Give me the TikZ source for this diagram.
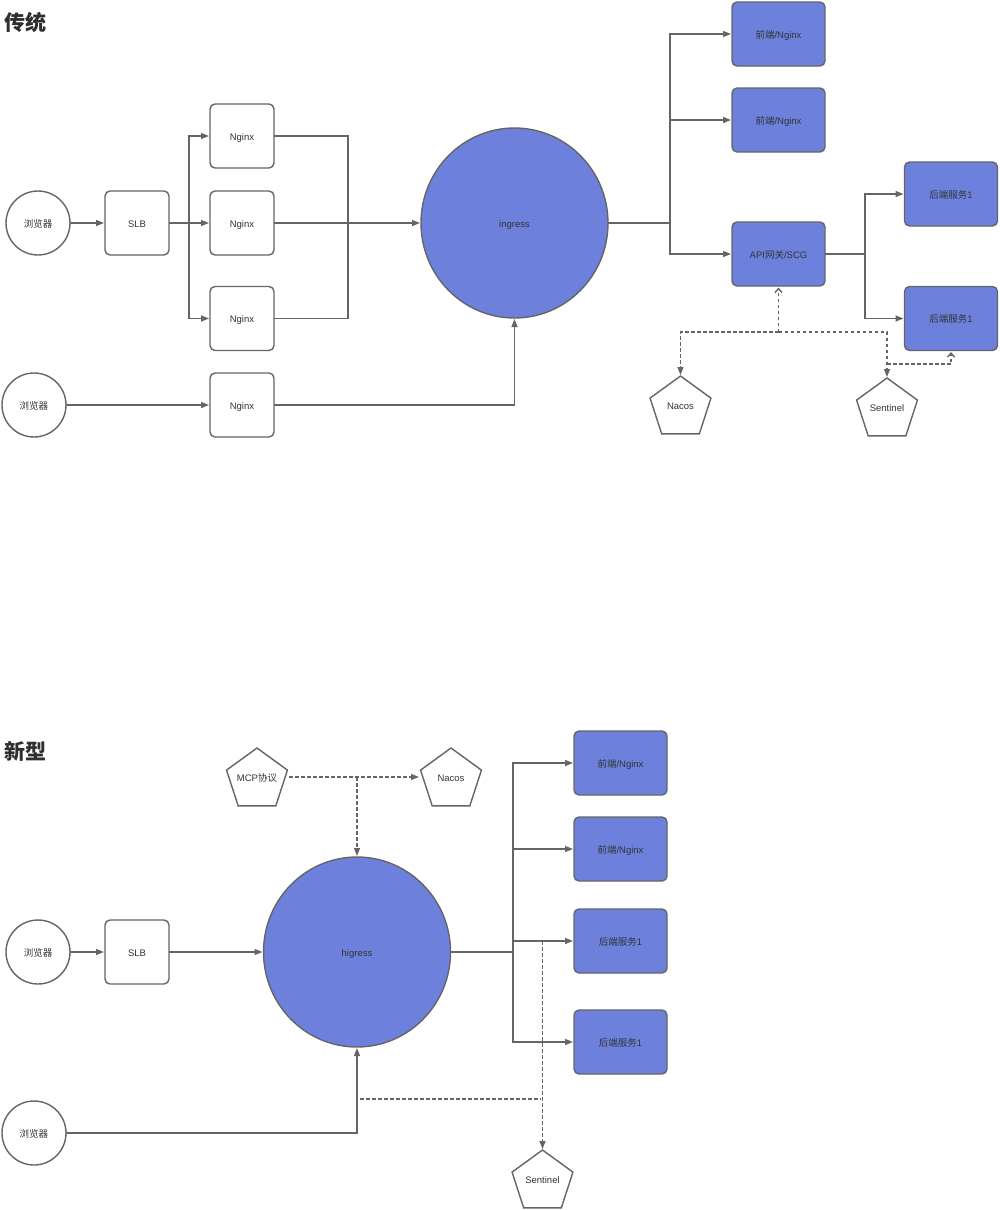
\documentclass[tikz,border=0pt]{standalone}
\usepackage{fontspec}
\setmainfont{Liberation Sans}
\newfontfamily\cjkfont{Noto Sans CJK SC}
\usetikzlibrary{positioning,arrows.meta,shapes.geometric}
\definecolor{linegray}{HTML}{656565}
\definecolor{textgray}{HTML}{333333}
\definecolor{nodeblue}{HTML}{6D81DC}
\newcommand{\pentext}[1]{\raisebox{3pt}{\makebox[0pt]{#1}}}
\tikzset{base/.style = {draw=linegray,line width=1.4pt,inner sep=0,outer sep=0,text=textgray,text height=9pt,text depth=1pt,font=\fontsize{9.5}{11}\selectfont}}
\tikzset{ball/.style = {base,circle,minimum size=64pt,fill=white}}
\tikzset{hub/.style = {base,ellipse,minimum width=187pt,minimum height=190pt,fill=nodeblue}}
\tikzset{box/.style = {base,rectangle,rounded corners=5pt,minimum width=64pt,minimum height=64pt,fill=white}}
\tikzset{bluebox/.style = {base,rectangle,rounded corners=5pt,minimum width=93pt,minimum height=64pt,fill=nodeblue}}
\tikzset{penta/.style = {base,regular polygon,regular polygon sides=5,minimum size=64pt,fill=white}}
\tikzset{title/.style = {inner sep=0,text=black!82,font=\fontsize{21}{24}\selectfont\cjkfont\bfseries}}
\tikzset{link/.style = {draw=linegray,line width=1.4pt}}
\tikzset{go/.style = {link,-{Triangle[length=8pt,width=6pt]},shorten >=1pt}}
\tikzset{dots/.style = {link,dash pattern=on 3.5pt off 2.5pt}}
\tikzset{dotgo/.style = {dots,-{Triangle[length=8pt,width=6pt]},shorten >=1pt}}
\tikzset{dotbarb/.style = {dots,-{Straight Barb[length=4pt,width=7pt]},shorten >=1.5pt}}

\begin{document}
\begin{tikzpicture}[x=1pt,y=-1pt]
    \useasboundingbox (0,0) rectangle (1000,1210);
    % upper part
    \node [title] (TA) at (25.5,22) {传统};
    \node [ball] (BA) at (38,223) {\cjkfont 浏览器};
    \node [ball] (BB) at (34,405) {\cjkfont 浏览器};
    \node [box] (SA) at (137,223) {SLB};
    \node [box] (NA) at (242,136) {Nginx};
    \node [box] (NB) at (242,223) {Nginx};
    \node [box] (NC) at (242,318.5) {Nginx};
    \node [box] (ND) at (242,405) {Nginx};
    \node [hub] (ING) at (514.5,223) {ingress};
    \node [bluebox] (FA) at (778.5,34) {{\cjkfont 前端}/Nginx};
    \node [bluebox] (FB) at (778.5,120) {{\cjkfont 前端}/Nginx};
    \node [bluebox] (API) at (778.5,254) {API{\cjkfont 网关}/SCG};
    \node [bluebox] (SA1) at (951,194) {{\cjkfont 后端服务}1};
    \node [bluebox] (SA2) at (951,318.5) {{\cjkfont 后端服务}1};
    \node [penta] (NAC) at (680.5,408) {\pentext{Nacos}};
    \node [penta] (SEN) at (887,410) {\pentext{Sentinel}};
    \coordinate (J1) at (189,223);
    \coordinate (J2) at (348,223);
    \coordinate (J3) at (670,223);
    \coordinate (J4) at (865,254);
    \coordinate (J5) at (778.5,332);
    \coordinate (J6) at (887,364);
    \draw [go] (BA) -- (SA);
    \draw [go] (SA) -- (NB);
    \draw [go] (J1) |- (NA);
    \draw [go] (J1) |- (NC);
    \draw [go] (NB) -- (ING);
    \draw [link] (NA) -| (J2);
    \draw [link] (NC) -| (J2);
    \draw [go] (BB) -- (ND);
    \draw [go] (ND) -| (ING);
    \draw [link] (ING) -- (J3);
    \draw [go] (J3) |- (FA);
    \draw [go] (J3) |- (FB);
    \draw [go] (J3) |- (API);
    \draw [link] (API) -- (J4);
    \draw [go] (J4) |- (SA1);
    \draw [go] (J4) |- (SA2);
    \draw [dotbarb] (J5) -- (API);
    \draw [dotgo] (J5) -| (NAC.north);
    \draw [dotgo] (J5) -| (SEN.north);
    \draw [dotbarb] (J6) -| (SA2);
    % lower part
    \node [title] (TB) at (25.5,751) {新型};
    \node [ball] (BC) at (38,952) {\cjkfont 浏览器};
    \node [ball] (BD) at (34,1133) {\cjkfont 浏览器};
    \node [box] (SB) at (137,952) {SLB};
    \node [hub] (HIG) at (357,952) {higress};
    \node [bluebox] (FC) at (620.5,763) {{\cjkfont 前端}/Nginx};
    \node [bluebox] (FD) at (620.5,849) {{\cjkfont 前端}/Nginx};
    \node [bluebox] (SB1) at (620.5,941) {{\cjkfont 后端服务}1};
    \node [bluebox] (SB2) at (620.5,1042) {{\cjkfont 后端服务}1};
    \node [penta] (MCP) at (257,780) {\pentext{MCP{\cjkfont 协议}}};
    \node [penta] (NAD) at (451,780) {\pentext{Nacos}};
    \node [penta] (SEO) at (542.5,1182) {\pentext{Sentinel}};
    \coordinate (K1) at (513,952);
    \coordinate (K2) at (289,777);
    \coordinate (K3) at (420,777);
    \coordinate (K4) at (357,777);
    \coordinate (K5) at (542.5,941);
    \coordinate (K6) at (360,1099);
    \coordinate (K7) at (541,1099);
    \draw [go] (BC) -- (SB);
    \draw [go] (SB) -- (HIG);
    \draw [go] (BD) -| (HIG);
    \draw [link] (HIG) -- (K1);
    \draw [go] (K1) |- (FC);
    \draw [go] (K1) |- (FD);
    \draw [go] (K1) |- (SB1);
    \draw [go] (K1) |- (SB2);
    \draw [dotgo] (K2) -- (K3);
    \draw [dotgo] (K4) -- (HIG);
    \draw [dotgo] (K5) -- (SEO.north);
    \draw [dots] (K6) -- (K7);
\end{tikzpicture}
\end{document}
